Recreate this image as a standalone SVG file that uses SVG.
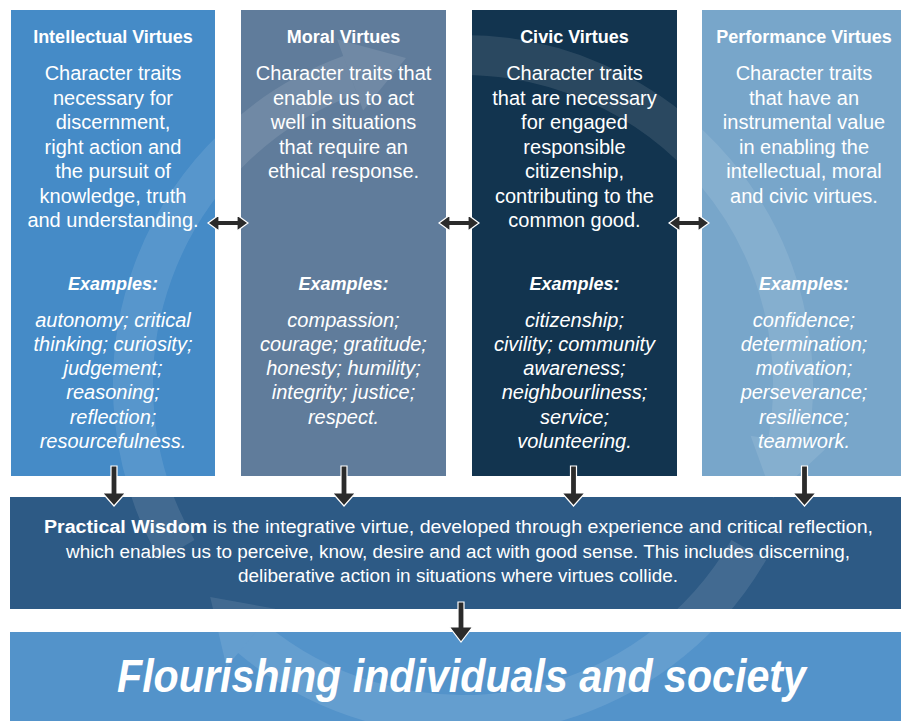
<svg xmlns="http://www.w3.org/2000/svg" width="901" height="721" viewBox="0 0 901 721">
<style>
.t{font-family:"Liberation Sans",Arial,sans-serif;fill:#fff;text-anchor:middle}
.ttl{font-size:18px;font-weight:bold}
.body{font-size:20px}
.ex{font-size:18px;font-weight:bold;font-style:italic}
.it{font-size:20px;font-style:italic}
.pw{font-size:18px}
.fl{font-size:46px;font-weight:bold;font-style:italic}
.arr{fill:#2b2b2b;stroke:#fff;stroke-width:1.2;stroke-linejoin:miter}
.sw{fill:none;stroke:#fff;stroke-opacity:0.1;stroke-width:40}
.swh{fill:#fff;fill-opacity:0.1}
</style>
<rect width="901" height="721" fill="#fff"/>
<g id="intellectual">
<rect x="11" y="10" width="204" height="466" fill="#458BC7"/>
<text class="t ttl" x="113" y="43">Intellectual Virtues</text>
<text class="t body" x="113" y="80">Character traits</text>
<text class="t body" x="113" y="104.5">necessary for</text>
<text class="t body" x="113" y="129">discernment,</text>
<text class="t body" x="113" y="153.5">right action and</text>
<text class="t body" x="113" y="178">the pursuit of</text>
<text class="t body" x="113" y="202.5">knowledge, truth</text>
<text class="t body" x="113" y="227">and understanding.</text>
<text class="t ex" x="113" y="290">Examples:</text>
<text class="t it" x="113" y="326.5">autonomy; critical</text>
<text class="t it" x="113" y="350.8">thinking; curiosity;</text>
<text class="t it" x="113" y="375.1">judgement;</text>
<text class="t it" x="113" y="399.4">reasoning;</text>
<text class="t it" x="113" y="423.7">reflection;</text>
<text class="t it" x="113" y="448">resourcefulness.</text>
</g>
<g id="moral">
<rect x="241" y="10" width="205" height="466" fill="#607C9B"/>
<text class="t ttl" x="343.5" y="43">Moral Virtues</text>
<text class="t body" x="343.5" y="80">Character traits that</text>
<text class="t body" x="343.5" y="104.5">enable us to act</text>
<text class="t body" x="343.5" y="129">well in situations</text>
<text class="t body" x="343.5" y="153.5">that require an</text>
<text class="t body" x="343.5" y="178">ethical response.</text>
<text class="t ex" x="343.5" y="290">Examples:</text>
<text class="t it" x="343.5" y="326.5">compassion;</text>
<text class="t it" x="343.5" y="350.8">courage; gratitude;</text>
<text class="t it" x="343.5" y="375.1">honesty; humility;</text>
<text class="t it" x="343.5" y="399.4">integrity; justice;</text>
<text class="t it" x="343.5" y="423.7">respect.</text>
</g>
<g id="civic">
<rect x="472" y="10" width="205" height="466" fill="#12344F"/>
<text class="t ttl" x="574.5" y="43">Civic Virtues</text>
<text class="t body" x="574.5" y="80">Character traits</text>
<text class="t body" x="574.5" y="104.5">that are necessary</text>
<text class="t body" x="574.5" y="129">for engaged</text>
<text class="t body" x="574.5" y="153.5">responsible</text>
<text class="t body" x="574.5" y="178">citizenship,</text>
<text class="t body" x="574.5" y="202.5">contributing to the</text>
<text class="t body" x="574.5" y="227">common good.</text>
<text class="t ex" x="574.5" y="290">Examples:</text>
<text class="t it" x="574.5" y="326.5">citizenship;</text>
<text class="t it" x="574.5" y="350.8">civility; community</text>
<text class="t it" x="574.5" y="375.1">awareness;</text>
<text class="t it" x="574.5" y="399.4">neighbourliness;</text>
<text class="t it" x="574.5" y="423.7">service;</text>
<text class="t it" x="574.5" y="448">volunteering.</text>
</g>
<g id="performance">
<rect x="702" y="10" width="199" height="466" fill="#78A6CA"/>
<text class="t ttl" x="804" y="43">Performance Virtues</text>
<text class="t body" x="804" y="80">Character traits</text>
<text class="t body" x="804" y="104.5">that have an</text>
<text class="t body" x="804" y="129">instrumental value</text>
<text class="t body" x="804" y="153.5">in enabling the</text>
<text class="t body" x="804" y="178">intellectual, moral</text>
<text class="t body" x="804" y="202.5">and civic virtues.</text>
<text class="t ex" x="804" y="290">Examples:</text>
<text class="t it" x="804" y="326.5">confidence;</text>
<text class="t it" x="804" y="350.8">determination;</text>
<text class="t it" x="804" y="375.1">motivation;</text>
<text class="t it" x="804" y="399.4">perseverance;</text>
<text class="t it" x="804" y="423.7">resilience;</text>
<text class="t it" x="804" y="448">teamwork.</text>
</g>
<g id="practical-wisdom">
<rect x="10" y="497" width="891" height="112" fill="#2D5A85"/>
<text class="t pw" x="458.5" y="533" textLength="829" lengthAdjust="spacingAndGlyphs"><tspan font-weight="bold">Practical Wisdom</tspan> is the integrative virtue, developed through experience and critical reflection,</text>
<text class="t pw" x="458" y="557.5" textLength="784" lengthAdjust="spacingAndGlyphs">which enables us to perceive, know, desire and act with good sense. This includes discerning,</text>
<text class="t pw" x="458" y="582" textLength="440" lengthAdjust="spacingAndGlyphs">deliberative action in situations where virtues collide.</text>
</g>
<g id="flourishing">
<rect x="10" y="632" width="891" height="89" fill="#5393CA"/>
<text class="t fl" x="461.5" y="692" textLength="689" lengthAdjust="spacingAndGlyphs">Flourishing individuals and society</text>
</g>
<g id="watermark">
<path class="sw" d="M177.2,550 A330,330 0 0 1 350.1,74.9"/>
<polygon class="swh" points="363.1,110.6 337.1,39.2 406,58"/>
<path class="sw" d="M463,55 A330,330 0 0 1 788,442.3"/>
<polygon class="swh" points="750.6,435.7 825.4,448.9 773.1,497.9"/>
<path class="sw" d="M748.8,550 A330,330 0 0 1 250.9,637.8"/>
<polygon class="swh" points="275.3,608.7 226.5,666.9 210.2,597.1"/>
</g>
<g id="connectors">
<path class="arr" d="M208,223 L219,215 L219,220.5 L237,220.5 L237,215 L248,223 L237,231 L237,225.5 L219,225.5 L219,231 Z"/>
<path class="arr" d="M439,223 L450,215 L450,220.5 L468,220.5 L468,215 L479,223 L468,231 L468,225.5 L450,225.5 L450,231 Z"/>
<path class="arr" d="M669,223 L680,215 L680,220.5 L698,220.5 L698,215 L709,223 L698,231 L698,225.5 L680,225.5 L680,231 Z"/>
<path class="arr" d="M111,466 H117 V493 H125.5 L114,506 L102.5,493 H111 Z"/>
<path class="arr" d="M341,466 H347 V493 H355.5 L344,506 L332.5,493 H341 Z"/>
<path class="arr" d="M570.5,466 H576.5 V493 H585 L573.5,506 L562,493 H570.5 Z"/>
<path class="arr" d="M801.5,466 H807.5 V493 H816 L804.5,506 L793,493 H801.5 Z"/>
<path class="arr" d="M458,602 H464 V627 H472.5 L461,642 L449.5,627 H458 Z"/>
</g>
</svg>
